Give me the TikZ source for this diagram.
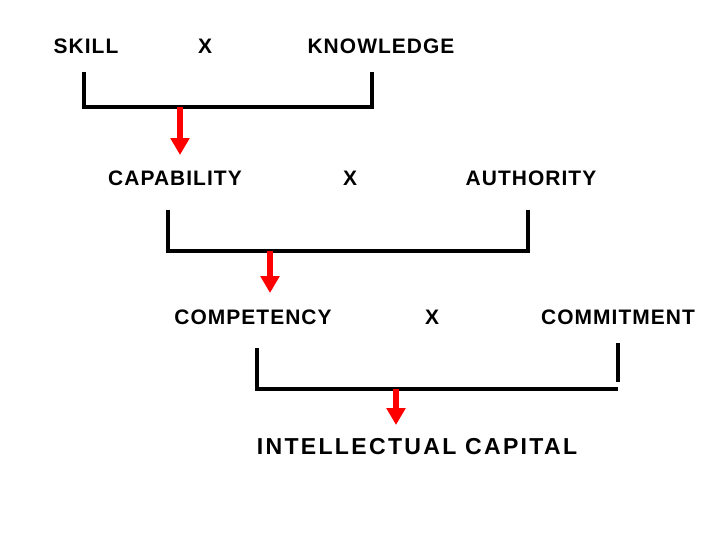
\documentclass[tikz,border=0pt]{standalone}
\usepackage{fontspec}
\setmainfont{Liberation Sans}
\newfontfamily\termfont[LetterSpace=5]{Liberation Sans}
\newfontfamily\bigtermfont[LetterSpace=10]{Liberation Sans}
\usetikzlibrary{arrows.meta}

\begin{document}
\begin{tikzpicture}[
  x=0.025cm, y=-0.025cm,
  term/.style={inner sep=0pt, font=\termfont\bfseries\fontsize{14.9}{17}\selectfont},
  bigterm/.style={inner sep=0pt, font=\bigtermfont\bfseries\fontsize{16.4}{19}\selectfont},
  bracket/.style={draw=black, line width=2.8pt, line join=miter},
  redarrow/.style={draw=red, line width=3.6pt, -{Triangle[width=13pt,length=12pt]}},
]
  \path (0,0) rectangle (720,540);

  % ── Row 1 ──────────────────────────────────
  \node[term] (skill) at (86,46) {SKILL};
  \node[term] (x1) at (205,46) {X};
  \node[term] (knowledge) at (381,46) {KNOWLEDGE};
  \coordinate (b1l) at (84,72);
  \coordinate (b1r) at (372,72);
  \coordinate (b1m) at (180,107);
  \coordinate (a1) at (180,155);

  % ── Row 2 ──────────────────────────────────
  \node[term] (capability) at (175,178) {CAPABILITY};
  \node[term] (x2) at (350,178) {X};
  \node[term] (authority) at (531,178) {AUTHORITY};
  \coordinate (b2l) at (168,210);
  \coordinate (b2r) at (528,210);
  \coordinate (b2m) at (270,251);
  \coordinate (a2) at (270,293);

  % ── Row 3 ──────────────────────────────────
  \node[term] (competency) at (253,317) {COMPETENCY};
  \node[term] (x3) at (432,317) {X};
  \node[term] (commitment) at (618,317) {COMMITMENT};
  \coordinate (b3l) at (257,348);
  \coordinate (b3r) at (618,343);
  \coordinate (b3e) at (618,382);
  \coordinate (b3m) at (396,389);
  \coordinate (a3) at (396,425);

  % ── Result ─────────────────────────────────
  \node[bigterm] (capital) at (417,447) {INTELLECTUAL CAPITAL};

  % ── Brackets ───────────────────────────────
  \draw[bracket] (b1l) |- (b1m -| b1r) -- (b1r);
  \draw[bracket] (b2l) |- (b2m -| b2r) -- (b2r);
  \draw[bracket] (b3l) |- (b3m -| b3r);
  \draw[bracket] (b3r) -- (b3e);

  % ── Arrows ─────────────────────────────────
  \draw[redarrow] (b1m) -- (a1);
  \draw[redarrow] (b2m) -- (a2);
  \draw[redarrow] (b3m) -- (a3);

\end{tikzpicture}
\end{document}
